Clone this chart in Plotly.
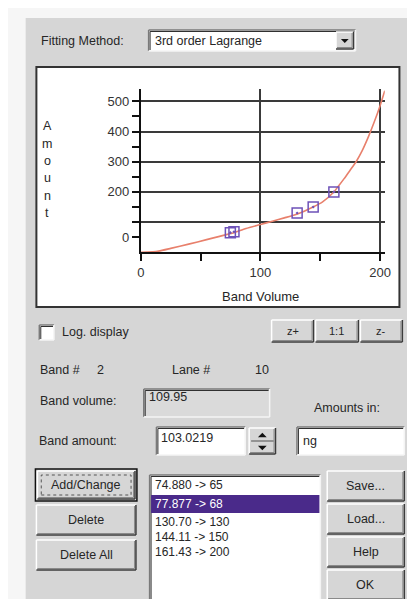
import plotly.graph_objects as go

W, H = 415, 599

# ---------------- data ----------------
cal_volume = [74.880, 77.877, 130.70, 144.11, 161.43]
cal_amount = [65, 68, 130, 150, 200]

fit_volume = [0, 5, 10, 15, 25, 40, 55, 65, 75, 78, 88, 100, 110, 120, 131,
              144, 152, 161, 165, 170, 175, 180, 185, 190, 195, 200, 204]
fit_amount = [0, 0.5, 1.5, 4, 13, 27, 42, 52, 62, 65, 79, 92, 103, 114, 127,
              150, 167, 198, 218, 244, 272, 300, 336, 380, 430, 485, 535]

x_tickvals = [0, 50, 100, 150, 200]
x_ticktext = ["0", "", "100", "", "200"]
x_gridvals = [100, 200]

y_tickvals = [50, 100, 150, 200, 250, 300, 350, 400, 450, 500]
y_ticktext = ["0", "", "", "200", "", "300", "", "400", "", "500"]
y_gridvals = [100, 200, 300, 400, 500]

list_items = ["74.880 -> 65", "77.877 -> 68", "130.70 -> 130",
              "144.11 -> 150", "161.43 -> 200"]
selected_index = 1

FONT = "Liberation Sans, Arial, sans-serif"
BG = "#d6d6d6"
TXT = "#262626"

# ---------------- helpers (pixel -> paper) ----------------
def px(x):
    return x / W

def py(y):
    return 1 - y / H

shapes = []
annots = []

def rect(x0, y0, x1, y1, fill=None, line=None, lw=0, dash=None):
    d = dict(type="rect", xref="paper", yref="paper", layer="below",
             x0=px(x0), x1=px(x1), y0=py(y1), y1=py(y0),
             fillcolor=fill if fill else "rgba(0,0,0,0)",
             line=dict(width=lw, color=line if line else "rgba(0,0,0,0)"))
    if dash:
        d["line"]["dash"] = dash
    shapes.append(d)

def seg(x0, y0, x1, y1, color, w=1):
    shapes.append(dict(type="line", xref="paper", yref="paper", layer="below",
                       x0=px(x0), x1=px(x1), y0=py(y0), y1=py(y1),
                       line=dict(color=color, width=w)))

def tri(cx, cy, up=False, s=4, color="#111"):
    if up:
        pts = [(cx - s, cy + s / 2), (cx + s, cy + s / 2), (cx, cy - s / 2)]
    else:
        pts = [(cx - s, cy - s / 2), (cx + s, cy - s / 2), (cx, cy + s / 2)]
    path = "M " + " L ".join(f"{px(a):.5f},{py(b):.5f}" for a, b in pts) + " Z"
    shapes.append(dict(type="path", xref="paper", yref="paper", layer="below",
                       path=path, fillcolor=color, line=dict(width=0)))

def text(x, y, s, size=12.5, color=TXT, anchor="left"):
    annots.append(dict(xref="paper", yref="paper", x=px(x), y=py(y), text=s,
                       showarrow=False, xanchor=anchor, yanchor="middle",
                       borderpad=0,
                       font=dict(family=FONT, size=size, color=color)))

def raised(x0, y0, x1, y1, face=BG):
    rect(x0, y0, x1, y1, fill=face)
    seg(x0, y0, x1, y0, "#ffffff", 1.5)
    seg(x0, y0, x0, y1, "#ffffff", 1.5)
    seg(x0, y1, x1, y1, "#3c3c3c", 1.5)
    seg(x1, y0, x1, y1, "#3c3c3c", 1.5)
    seg(x0 + 1, y1 - 1.5, x1 - 1.5, y1 - 1.5, "#8a8a8a", 1)
    seg(x1 - 1.5, y0 + 1, x1 - 1.5, y1 - 1.5, "#8a8a8a", 1)

def sunken(x0, y0, x1, y1, fill="#ffffff"):
    rect(x0, y0, x1, y1, fill=fill)
    seg(x0, y0, x1, y0, "#7a7a7a", 1.5)
    seg(x0, y0, x0, y1, "#7a7a7a", 1.5)
    seg(x0 + 1.5, y0 + 1.5, x1 - 1, y0 + 1.5, "#303030", 1)
    seg(x0 + 1.5, y0 + 1.5, x0 + 1.5, y1 - 1, "#303030", 1)
    seg(x0, y1, x1, y1, "#f4f4f4", 1.5)
    seg(x1, y0, x1, y1, "#f4f4f4", 1.5)

def button(x0, y0, x1, y1, label, size=12.5):
    raised(x0, y0, x1, y1)
    text((x0 + x1) / 2, (y0 + y1) / 2, label, size=size, anchor="center")

# ---------------- dialog chrome ----------------
rect(14, 10, 415, 595, fill=BG)

text(29, 33, "Fitting Method:")
sunken(140, 22, 352, 43)
text(145, 33, "3rd order Lagrange")
raised(332, 24, 350, 41)
tri(341, 33)

# chart frame
rect(25, 59, 397, 299, fill="#ffffff", line="#333333", lw=2)

for i, ch in enumerate("Amount"):
    text(36, 118 + i * 17.5, ch, size=12.5, anchor="center")
text(255, 288, "Band Volume", size=13, anchor="center")

# log display + zoom buttons
sunken(28, 317, 43, 332)
text(50, 324, "Log. display")
button(266, 312, 309, 334, "z+", size=11)
button(311, 312, 355, 334, "1:1", size=11)
button(357, 312, 400, 334, "z-", size=11)

# band / lane
text(28, 362, "Band #")
text(86, 362, "2")
text(163, 362, "Lane #")
text(248, 362, "10")

text(28, 393, "Band volume:")
sunken(135, 381, 264, 409, fill="#dadada")
text(139, 389, "109.95")
text(343, 400, "Amounts in:", anchor="center")

text(27, 433, "Band amount:")
sunken(148, 419, 239, 447)
text(152, 430, "103.0219")
raised(243, 420, 270, 446)
seg(245, 433, 268, 433, "#505050", 1)
tri(256.5, 427, up=True, s=4.5)
tri(256.5, 440, up=False, s=4.5)
sunken(292, 419, 402, 447)
text(297, 433, "ng")

# left buttons
rect(24, 461, 128, 493, fill=None, line="#111111", lw=1.5)
button(26, 463, 126, 491, "Add/Change")
rect(30, 467, 122, 487, fill=None, line="#555555", lw=1, dash="dot")
button(25, 497, 127, 527, "Delete")
button(25, 532, 127, 562, "Delete All")

# list box
sunken(141, 467, 316, 595)
item_y = [477, 496, 514, 529, 544]
for i, s in enumerate(list_items):
    if i == selected_index:
        rect(142.5, 487, 315, 505, fill="#4a2a8a")
        text(145, item_y[i], s, size=12, color="#ffffff")
    else:
        text(145, item_y[i], s, size=12)

# right buttons
button(323, 463, 402, 493, "Save...")
button(323, 496, 402, 526, "Load...")
button(323, 529, 402, 559, "Help")
button(323, 562, 402, 592, "OK")

# ---------------- chart ----------------
fig = go.Figure()
fig.add_trace(go.Scatter(x=fit_volume, y=fit_amount, mode="lines",
                         line=dict(color="#e8806c", width=1.6, shape="spline", smoothing=0.6),
                         hoverinfo="skip", showlegend=False))
fig.add_trace(go.Scatter(x=cal_volume, y=cal_amount, mode="markers",
                         marker=dict(symbol="square-open-dot", size=10, color="#6e52b8",
                                     line=dict(width=1.5)),
                         showlegend=False))

axis_common = dict(showline=True, linecolor="#111111", linewidth=2, ticks="outside",
                   ticklen=7, tickwidth=1.5, tickcolor="#111111", showgrid=False,
                   zeroline=False, tickfont=dict(family=FONT, size=13, color="#333333"),
                   fixedrange=True)

fig.update_layout(
    width=W, height=H,
    margin=dict(l=0, r=0, t=0, b=0),
    paper_bgcolor="#f6f6f6",
    plot_bgcolor="rgba(0,0,0,0)",
    showlegend=False,
    xaxis=dict(domain=[px(132), px(382)], range=[0, 204], tickmode="array",
               tickvals=x_tickvals, ticktext=x_ticktext,
               minor=dict(tickmode="array", tickvals=x_gridvals, showgrid=True,
                          gridcolor="#3a3a3a", gridwidth=1.5, ticks=""),
               **axis_common),
    yaxis=dict(domain=[py(244.3), py(80.7)], range=[0, 542], tickmode="array",
               tickvals=y_tickvals, ticktext=y_ticktext,
               minor=dict(tickmode="array", tickvals=y_gridvals, showgrid=True,
                          gridcolor="#3a3a3a", gridwidth=1.5, ticks=""),
               **axis_common),
    shapes=shapes,
    annotations=annots,
)

fig.write_html("out.html")
